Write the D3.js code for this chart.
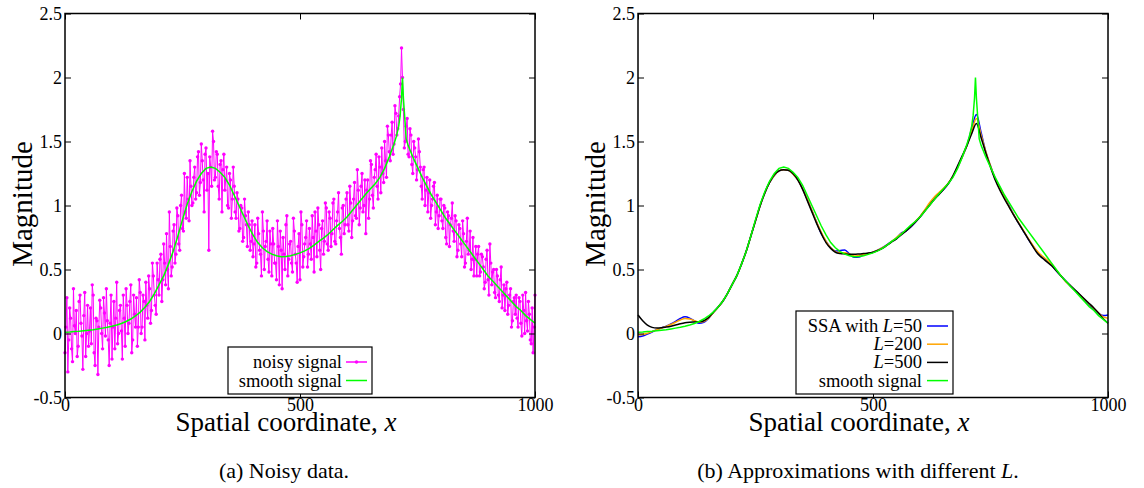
<!DOCTYPE html>
<html><head><meta charset="utf-8">
<script src="https://cdn.jsdelivr.net/npm/d3@7"></script>
<style>
body{margin:0;background:#fff}
svg{display:block}
</style>
</head><body>
<svg id="c" width="1144" height="488"></svg>
<script>
// ---------------- data ----------------
const yTicks = [-0.5, 0, 0.5, 1, 1.5, 2, 2.5];
const xTicks = [0, 500, 1000];
const xDomain = [0, 1000];
const yDomain = [-0.5, 2.5];

// noisy signal: samples at x = 0, 4, 8, ... 1000
const noisyStep = 4;
const noisyEven = [
 -0.15, 0.28, -0.05, 0.12, -0.22, 0.06, 0.18, -0.10, 0.30, -0.02,
 0.14, -0.18, 0.22, 0.02, -0.08, 0.30, -0.25, 0.10, 0.05, 0.20,
 -0.12, 0.16, 0.35, -0.05, 0.08, -0.20, 0.25, 0.12, -0.08, 0.18,
 0.02, 0.30, -0.10, 0.22, 0.08, 0.38, -0.05, 0.15, 0.28, 0.05,
 0.32, 0.05, 0.25, 0.40, 0.12, 0.35, 0.18, 0.45, 0.22, 0.55,
 0.30, 0.62, 0.42, 0.55, 0.78, 0.35, 0.68, 0.52, 0.85, 0.62,
 0.92, 0.65, 1.08, 0.80, 0.95, 1.22, 0.88, 1.15, 1.02, 1.30,
 1.10, 1.42, 1.18, 1.35, 0.95, 1.45, 1.25, 1.38, 1.15, 1.50,
 1.22, 1.40, 1.05, 1.35, 1.28, 1.12, 1.30, 0.98, 1.20, 1.05,
 1.15, 0.90, 1.05, 0.82, 0.98, 0.75, 0.92, 0.68, 0.85, 0.72,
 0.60, 0.85, 0.55, 0.78, 0.62, 0.95, 0.50, 0.72, 0.58, 0.80,
 0.45, 0.70, 0.55, 0.88, 0.38, 0.65, 0.75, 0.50, 0.92, 0.58,
 0.72, 0.48, 0.80, 0.55, 0.68, 0.42, 0.85, 0.60, 0.75, 0.52,
 0.82, 0.58, 0.75, 0.95, 0.60, 0.85, 0.50, 0.88, 0.72, 0.98,
 0.65, 0.90, 0.78, 1.05, 0.70, 0.95, 0.82, 0.62, 1.00, 0.85,
 1.10, 0.80, 1.02, 0.88, 1.18, 0.90, 1.12, 0.98, 1.25, 1.00,
 0.78, 1.20, 1.05, 1.32, 0.98, 1.28, 1.15, 1.38, 1.10, 1.25,
 1.50, 1.22, 1.55, 1.35, 1.65, 1.48, 1.72, 1.60, 1.85, 2.23,
 1.75, 1.50, 1.68, 1.38, 1.55, 1.25, 1.45, 1.20, 1.52, 1.30,
 1.05, 1.30, 1.12, 0.95, 1.20, 1.00, 1.15, 0.85, 1.08, 0.92,
 1.05, 0.82, 0.98, 0.70, 0.92, 0.85, 1.02, 0.72, 0.88, 0.65,
 0.82, 0.60, 0.78, 0.55, 0.90, 0.65, 0.50, 0.75, 0.58, 0.45,
 0.68, 0.48, 0.60, 0.35, 0.58, 0.42, 0.70, 0.38, 0.50, 0.28,
 0.45, 0.25, 0.52, 0.30, 0.18, 0.40, 0.22, 0.35, 0.10, 0.28,
 0.30, 0.05, 0.25, -0.02, 0.18, 0.32, 0.02, 0.15, -0.08, -0.15,
 0.30
];
// noisy signal: samples at x = 2, 6, 10, ... 998
const noisyOdd = [
 0.05, -0.30, 0.20, -0.12, 0.35, 0.00, -0.18, 0.25, 0.08, -0.28,
 0.32, 0.00, -0.10, 0.20, 0.38, -0.15, 0.12, -0.32, 0.26, 0.00,
 0.28, -0.02, 0.10, -0.25, 0.30, 0.05, -0.12, 0.40, 0.00, 0.22,
 -0.20, 0.12, 0.35, 0.00, 0.25, -0.15, 0.30, 0.05, -0.10, 0.42,
 0.00, 0.30, -0.05, 0.22, 0.45, 0.08, 0.55, 0.30, 0.15, 0.42,
 0.58, 0.25, 0.70, 0.38, 0.50, 0.95, 0.45, 0.80, 0.55, 0.98,
 0.70, 1.00, 0.82, 1.25, 0.90, 1.05, 1.35, 1.00, 1.22, 1.05,
 1.38, 1.08, 1.48, 1.20, 1.40, 1.12, 0.65, 1.30, 1.58, 1.20,
 1.42, 1.15, 1.32, 0.95, 1.40, 1.20, 1.00, 1.25, 0.90, 1.30,
 0.95, 1.10, 0.80, 1.00, 0.72, 1.05, 0.85, 0.95, 0.65, 0.88,
 0.70, 0.52, 0.90, 0.65, 0.45, 0.80, 0.68, 0.88, 0.48, 0.70,
 0.82, 0.55, 0.42, 0.68, 0.80, 0.35, 0.62, 0.85, 0.45, 0.70,
 0.55, 0.90, 0.62, 0.40, 0.78, 0.95, 0.52, 0.70, 0.88, 0.62,
 0.70, 0.92, 0.48, 0.80, 0.98, 0.65, 0.82, 0.62, 1.02, 0.70,
 0.95, 0.68, 1.02, 0.72, 0.88, 1.10, 0.75, 0.98, 0.78, 1.05,
 0.85, 1.15, 0.75, 1.05, 0.92, 1.28, 0.85, 1.15, 0.95, 1.20,
 1.12, 0.90, 1.35, 1.08, 1.22, 1.40, 1.05, 1.30, 1.45, 1.18,
 1.35, 1.62, 1.42, 1.55, 1.40, 1.78, 1.55, 1.70, 1.95, 2.00,
 1.45, 1.62, 1.40, 1.60, 1.32, 1.50, 1.38, 1.28, 1.42, 1.15,
 1.28, 1.00, 1.22, 1.10, 0.90, 1.05, 1.18, 0.95, 0.82, 1.05,
 0.88, 1.00, 0.75, 0.95, 0.68, 0.90, 0.80, 0.92, 0.60, 0.85,
 0.70, 0.88, 0.52, 0.72, 0.62, 0.80, 0.58, 0.45, 0.68, 0.62,
 0.45, 0.62, 0.52, 0.40, 0.65, 0.30, 0.55, 0.48, 0.32, 0.50,
 0.30, 0.42, 0.20, 0.38, 0.35, 0.15, 0.30, 0.05, 0.25, 0.15,
 0.12, 0.28, 0.08, 0.30, 0.00, 0.10, 0.25, -0.05, 0.20, 0.05
];

// smooth signal
const smoothX = [0,10,20,30,40,50,60,70,80,90,100,110,120,130,140,150,160,170,180,190,200,
 210,220,230,240,250,260,270,280,290,300,310,320,330,340,350,360,370,380,390,400,
 410,420,430,440,450,460,470,480,490,500,510,520,530,540,550,560,570,580,590,600,
 610,620,630,640,650,660,670,680,690,700,705,710,713,716,718,720,723,726,730,740,
 750,760,770,780,790,800,810,820,830,840,850,860,870,880,890,900,910,920,930,940,
 950,960,970,980,990,1000];
const smoothY = [0.010,0.012,0.015,0.018,0.022,0.026,0.030,0.036,0.042,0.048,0.056,0.066,0.078,0.094,0.113,0.137,0.167,0.205,0.25,0.31,0.38,
 0.45,0.54,0.64,0.76,0.89,1.01,1.11,1.19,1.25,1.29,1.30,1.29,1.26,1.22,1.16,1.08,1.00,0.92,0.84,0.77,
 0.71,0.67,0.64,0.62,0.607,0.60,0.602,0.608,0.618,0.63,0.645,0.665,0.69,0.72,0.745,0.775,0.81,0.845,0.875,0.91,
 0.955,1.00,1.045,1.09,1.13,1.17,1.22,1.29,1.38,1.48,1.54,1.62,1.70,1.84,2.00,1.84,1.68,1.52,1.47,1.38,
 1.30,1.22,1.15,1.08,1.02,0.96,0.90,0.85,0.80,0.75,0.70,0.65,0.60,0.55,0.50,0.45,0.41,0.37,0.33,0.29,
 0.25,0.21,0.18,0.14,0.11,0.08];

// SSA reconstructions, sampled every 10 units of x (0..1000)
const ssaStep = 10;
const ssaL50 = [-0.025,-0.020,-0.005,0.012,0.030,0.045,0.058,0.075,0.095,0.117,0.130,0.120,0.098,0.080,0.088,0.118,0.165,0.205,0.25,0.31,
 0.38,0.45,0.54,0.64,0.76,0.88,1.00,1.10,1.18,1.235,1.27,1.28,1.275,1.245,1.20,1.13,1.05,0.96,0.87,0.78,
 0.72,0.67,0.645,0.648,0.652,0.62,0.595,0.598,0.615,0.625,0.635,0.65,0.67,0.695,0.72,0.745,0.785,0.80,0.83,0.87,
 0.91,0.96,1.01,1.055,1.09,1.125,1.17,1.23,1.30,1.38,1.47,1.60,1.71,1.57,1.42,1.31,1.21,1.14,1.07,0.995,
 0.925,0.86,0.80,0.74,0.685,0.635,0.60,0.57,0.535,0.49,0.45,0.41,0.37,0.335,0.30,0.26,0.225,0.19,0.155,0.14,0.145];
const ssaL200 = [-0.010,-0.008,0.002,0.015,0.030,0.043,0.056,0.070,0.088,0.106,0.117,0.113,0.100,0.088,0.094,0.120,0.162,0.203,0.25,0.31,
 0.38,0.45,0.54,0.64,0.76,0.88,1.00,1.10,1.18,1.235,1.27,1.28,1.275,1.245,1.20,1.13,1.05,0.96,0.87,0.79,
 0.72,0.67,0.64,0.63,0.63,0.62,0.605,0.61,0.617,0.625,0.635,0.65,0.67,0.693,0.72,0.75,0.78,0.805,0.835,0.875,
 0.915,0.965,1.02,1.065,1.10,1.135,1.175,1.23,1.30,1.38,1.47,1.58,1.68,1.55,1.42,1.31,1.21,1.13,1.06,0.99,
 0.925,0.865,0.805,0.745,0.69,0.64,0.605,0.575,0.54,0.495,0.45,0.405,0.37,0.335,0.30,0.265,0.23,0.195,0.16,0.13,0.12];
const ssaL500 = [0.145,0.100,0.066,0.048,0.042,0.044,0.050,0.057,0.066,0.076,0.084,0.088,0.090,0.092,0.100,0.124,0.163,0.204,0.25,0.31,
 0.38,0.45,0.54,0.64,0.76,0.88,1.00,1.10,1.18,1.24,1.27,1.28,1.275,1.25,1.20,1.13,1.04,0.95,0.86,0.78,
 0.71,0.665,0.635,0.625,0.622,0.62,0.62,0.622,0.625,0.628,0.635,0.648,0.665,0.69,0.715,0.74,0.77,0.80,0.835,0.87,
 0.91,0.955,1.00,1.045,1.085,1.125,1.17,1.23,1.31,1.39,1.47,1.56,1.64,1.53,1.41,1.30,1.20,1.12,1.05,0.985,
 0.92,0.86,0.80,0.74,0.68,0.625,0.59,0.56,0.53,0.49,0.45,0.41,0.375,0.34,0.305,0.27,0.235,0.20,0.16,0.115,0.08];

const ssaSeries = [
  {name: "L=50",  values: ssaL50,  color: "#0000ff"},
  {name: "L=200", values: ssaL200, color: "#ffa500"},
  {name: "L=500", values: ssaL500, color: "#000000"}
];
const smoothColor = "#00ff00";
const noisyColor = "#ff00ff";

const xLabel = "Spatial coordinate, ";
const xLabelVar = "x";
const yLabel = "Magnitude";

// ---------------- drawing ----------------
const svg = d3.select("#c");
const W = 470, TOP = 13.5, BOT = 397.5;
const serif = '"Liberation Serif", "DejaVu Serif", "Times New Roman", Times, serif';

function txt(sel) { return sel.attr("font-family", serif).attr("fill", "#000"); }

function panel(left) {
  const x = d3.scaleLinear().domain(xDomain).range([left, left + W]);
  const y = d3.scaleLinear().domain(yDomain).range([BOT, TOP]);
  const g = svg.append("g");
  return {x, y, g, left};
}

function axes(p) {
  const {x, y, g, left} = p;
  const fmt = d => String(d);
  const aL = g.append("g").attr("transform", `translate(${left},0)`)
    .call(d3.axisLeft(y).tickValues(yTicks).tickSize(-6).tickPadding(3).tickFormat(fmt));
  const aR = g.append("g").attr("transform", `translate(${left + W},0)`)
    .call(d3.axisRight(y).tickValues(yTicks).tickSize(-6).tickFormat(""));
  const aB = g.append("g").attr("transform", `translate(0,${BOT})`)
    .call(d3.axisBottom(x).tickValues(xTicks).tickSize(-6).tickPadding(1).tickFormat(fmt));
  const aT = g.append("g").attr("transform", `translate(0,${TOP})`)
    .call(d3.axisTop(x).tickValues(xTicks).tickSize(-6).tickFormat(""));
  [aL, aR, aB, aT].forEach(a => {
    a.select(".domain").remove();
    a.attr("font-family", serif).attr("font-size", 18);
    a.selectAll("line").attr("stroke", "#000").attr("stroke-width", 1);
    a.selectAll("text").attr("fill", "#000").attr("font-family", serif);
  });
  g.append("rect").attr("x", left).attr("y", TOP).attr("width", W).attr("height", BOT - TOP)
    .attr("fill", "none").attr("stroke", "#000").attr("stroke-width", 1.5);

  const xt = txt(g.append("text")).attr("x", left + 221).attr("y", 431)
    .attr("text-anchor", "middle").attr("font-size", 27);
  xt.append("tspan").text(xLabel);
  xt.append("tspan").attr("font-style", "italic").text(xLabelVar);
  txt(g.append("text")).attr("transform", `translate(${left - 33},204) rotate(-90)`)
    .attr("text-anchor", "middle").attr("font-size", 29).text(yLabel);
}

// ---- panel (a)
const pa = panel(65);
const noisy = [];
noisyEven.forEach((v, i) => {
  noisy.push({x: i * noisyStep, y: v});
  if (i < noisyOdd.length) noisy.push({x: i * noisyStep + noisyStep / 2, y: noisyOdd[i]});
});
const lineA = d3.line().x(d => pa.x(d.x)).y(d => pa.y(d.y));
pa.g.append("path").datum(noisy).attr("d", lineA)
  .attr("fill", "none").attr("stroke", noisyColor).attr("stroke-width", 1);
pa.g.append("g").selectAll("circle").data(noisy).join("circle")
  .attr("cx", d => pa.x(d.x)).attr("cy", d => pa.y(d.y)).attr("r", 1.7)
  .attr("fill", noisyColor);
const smoothLineA = d3.line().x(d => pa.x(d[0])).y(d => pa.y(d[1]));
pa.g.append("path").datum(d3.zip(smoothX, smoothY)).attr("d", smoothLineA)
  .attr("fill", "none").attr("stroke", smoothColor).attr("stroke-width", 1.5);
axes(pa);

// legend (a)
const legA = pa.g.append("g");
legA.append("rect").attr("x", 228).attr("y", 347).attr("width", 144).attr("height", 47)
  .attr("fill", "#fff").attr("stroke", "#000").attr("stroke-width", 1.2);
const legAItems = [
  {label: "noisy signal", color: noisyColor, marker: true},
  {label: "smooth signal", color: smoothColor, marker: false}
];
legAItems.forEach((it, i) => {
  const by = 368 + i * 18.5;
  txt(legA.append("text")).attr("x", 342).attr("y", by).attr("text-anchor", "end")
    .attr("font-size", 18.5).text(it.label);
  legA.append("line").attr("x1", 346).attr("x2", 367).attr("y1", by - 6).attr("y2", by - 6)
    .attr("stroke", it.color).attr("stroke-width", 1.5);
  if (it.marker) legA.append("circle").attr("cx", 356.5).attr("cy", by - 6).attr("r", 1.7).attr("fill", it.color);
});

// ---- panel (b)
const pb = panel(638);
ssaSeries.forEach(s => {
  const ln = d3.line().curve(d3.curveMonotoneX).x((d, i) => pb.x(i * ssaStep)).y(d => pb.y(d));
  pb.g.append("path").datum(s.values).attr("d", ln)
    .attr("fill", "none").attr("stroke", s.color).attr("stroke-width", 1.5);
});
const smoothLineB = d3.line().x(d => pb.x(d[0])).y(d => pb.y(d[1]));
pb.g.append("path").datum(d3.zip(smoothX, smoothY)).attr("d", smoothLineB)
  .attr("fill", "none").attr("stroke", smoothColor).attr("stroke-width", 1.5);
axes(pb);

// legend (b)
const legB = pb.g.append("g");
legB.append("rect").attr("x", 796).attr("y", 311).attr("width", 157).attr("height", 83)
  .attr("fill", "#fff").attr("stroke", "#000").attr("stroke-width", 1.2);
const legBItems = [
  {parts: [["SSA with ", false], ["L", true], ["=50", false]], color: ssaSeries[0].color},
  {parts: [["L", true], ["=200", false]], color: ssaSeries[1].color},
  {parts: [["L", true], ["=500", false]], color: ssaSeries[2].color},
  {parts: [["smooth signal", false]], color: smoothColor}
];
legBItems.forEach((it, i) => {
  const by = 332 + i * 18.2;
  const t = txt(legB.append("text")).attr("x", 922).attr("y", by).attr("text-anchor", "end").attr("font-size", 18.5);
  it.parts.forEach(p => t.append("tspan").attr("font-style", p[1] ? "italic" : "normal").text(p[0]));
  legB.append("line").attr("x1", 927).attr("x2", 948).attr("y1", by - 6).attr("y2", by - 6)
    .attr("stroke", it.color).attr("stroke-width", 1.5);
});

// captions
txt(svg.append("text")).attr("x", 284).attr("y", 478).attr("text-anchor", "middle")
  .attr("font-size", 22).text("(a) Noisy data.");
const capB = txt(svg.append("text")).attr("x", 858).attr("y", 478).attr("text-anchor", "middle")
  .attr("font-size", 22);
capB.append("tspan").text("(b) Approximations with different ");
capB.append("tspan").attr("font-style", "italic").text("L");
capB.append("tspan").text(".");
</script>
</body></html>
